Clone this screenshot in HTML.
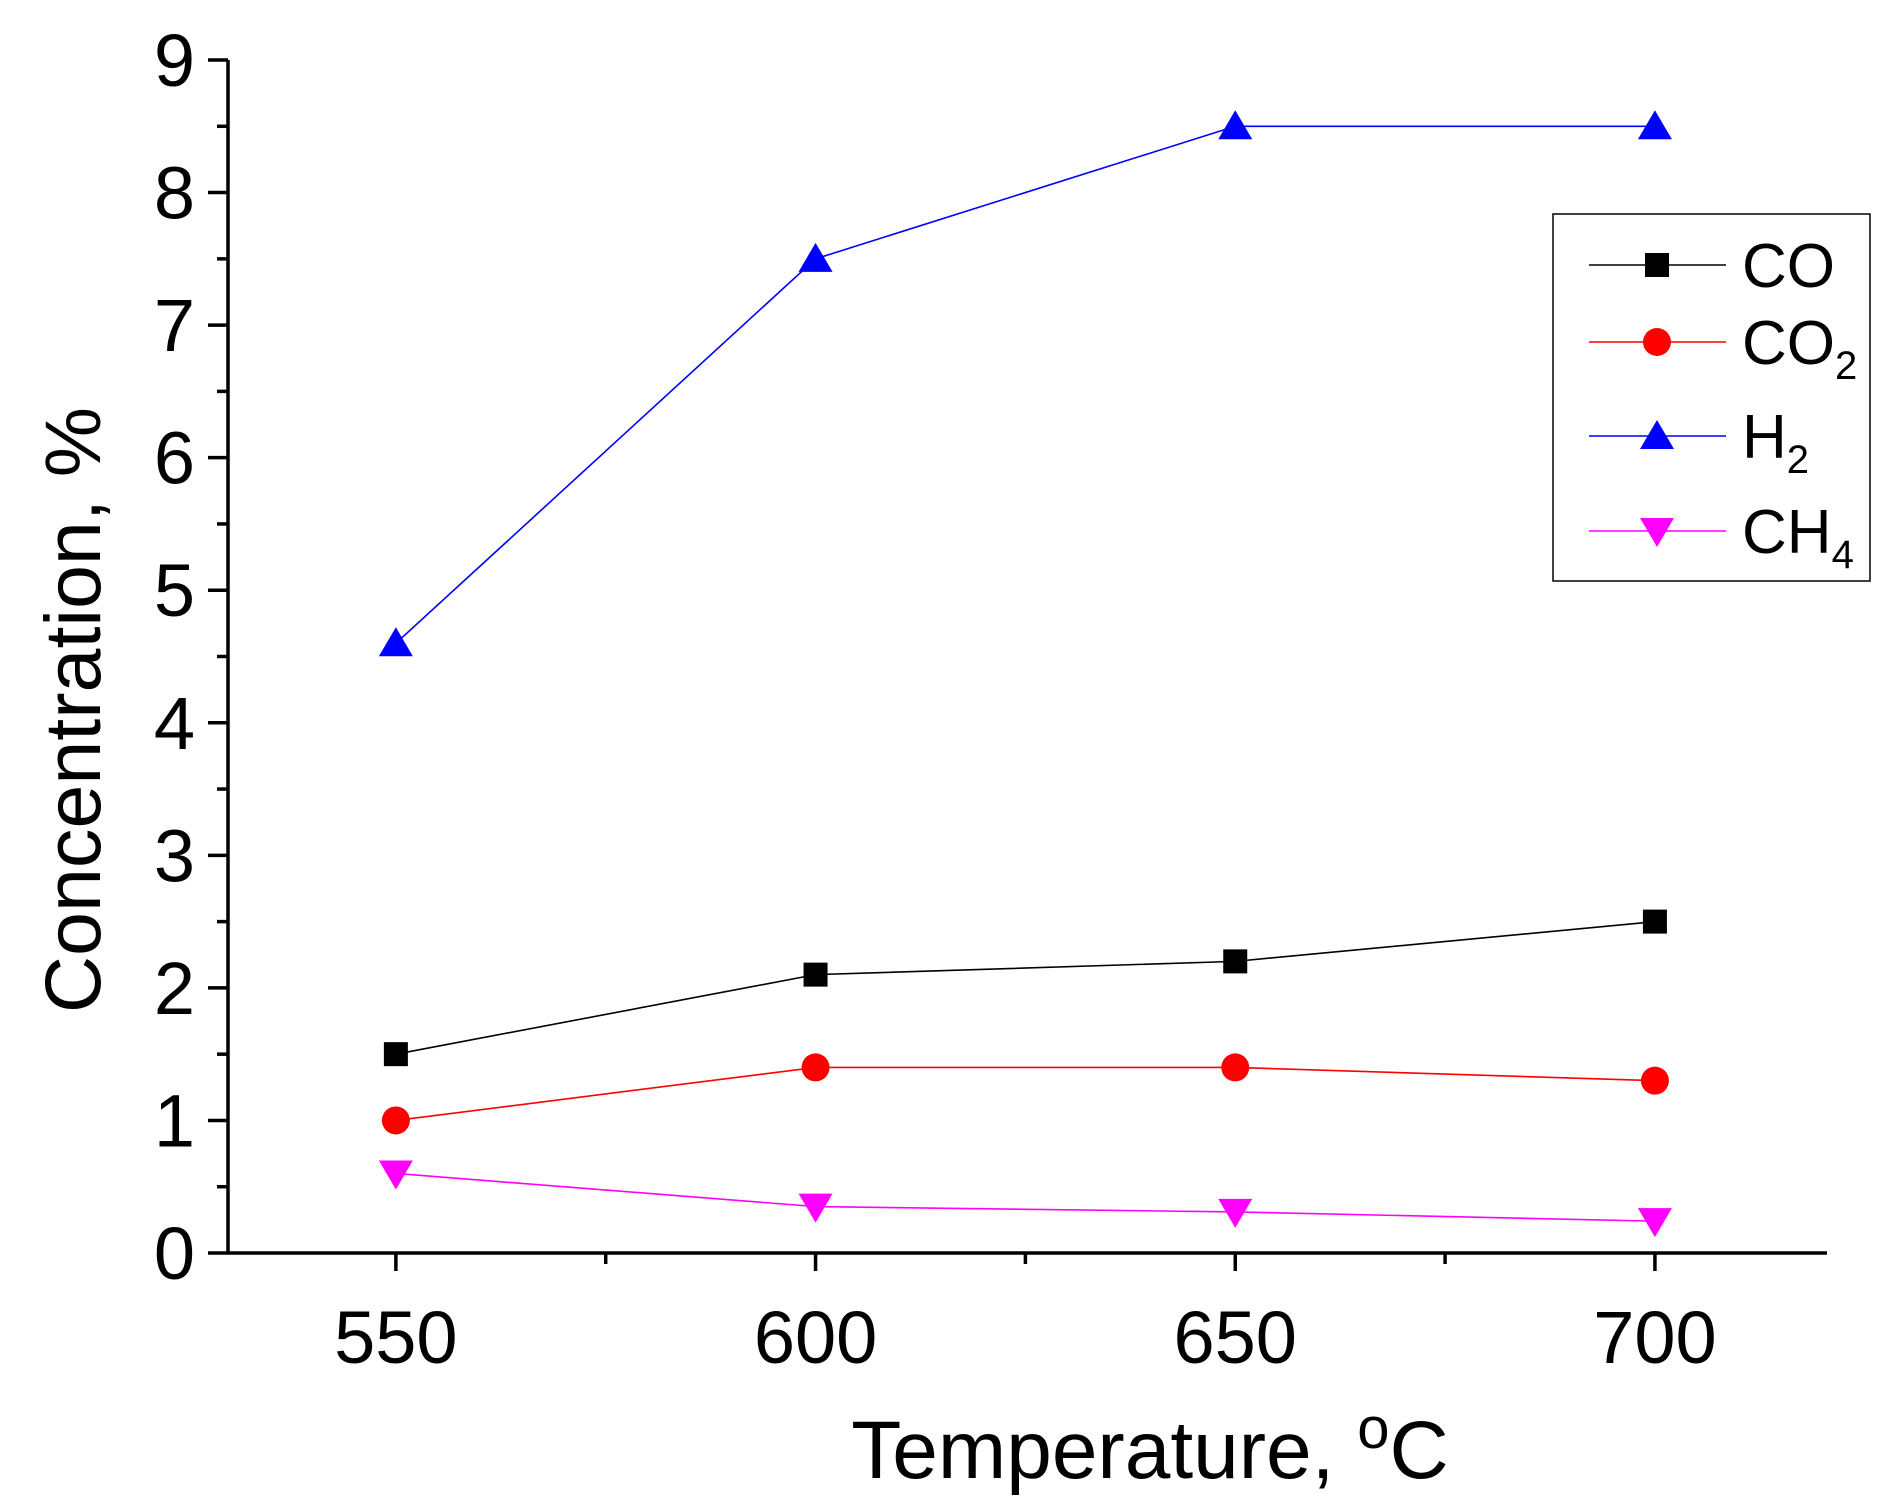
<!DOCTYPE html>
<html><head><meta charset="utf-8"><style>
html,body{margin:0;padding:0;background:#fff}
svg{display:block}
text{font-family:"Liberation Sans",Arial,sans-serif;fill:#000}
</style></head><body>
<svg id="chart" width="1903" height="1506" viewBox="0 0 1903 1506" xmlns="http://www.w3.org/2000/svg"></svg>
<script>
const categories=[550,600,650,700];
const coValues=[1.5,2.1,2.2,2.5];
const co2Values=[1.0,1.4,1.4,1.3];
const h2Values=[4.6,7.5,8.5,8.5];
const ch4Values=[0.6,0.35,0.31,0.24];
const yTicks=[0,1,2,3,4,5,6,7,8,9];
const xTicks=[550,600,650,700];

const NS="http://www.w3.org/2000/svg";
const svg=document.getElementById('chart');
const L=228,R=1827,T=60,B=1253;
const X0=530,X1=720.5,Y0=0,Y1=9;
function xs(v){return L+(v-X0)/(X1-X0)*(R-L);}
function ys(v){return B-(v-Y0)/(Y1-Y0)*(B-T);}
function el(tag,attrs,parent){const e=document.createElementNS(NS,tag);for(const k in attrs)e.setAttribute(k,attrs[k]);(parent||svg).appendChild(e);return e;}

const axes=el('g',{});


const yAxis=el('line',{x1:L,y1:T,x2:L,y2:B,stroke:'#000','stroke-width':3.5},axes);


const xAxis=el('line',{x1:L,y1:B,x2:R,y2:B,stroke:'#000','stroke-width':3.5},axes);


yTicks.forEach(v=>{
  const y=ys(v);
  el('line',{x1:L-20,y1:y,x2:L,y2:y,stroke:'#000','stroke-width':3.5},axes);
  if(v<9) el('line',{x1:L-11,y1:ys(v+0.5),x2:L,y2:ys(v+0.5),stroke:'#000','stroke-width':3.5},axes);
  const t=el('text',{x:L-33,y:y+26,'font-size':74,'text-anchor':'end'},axes);
  t.textContent=v;
  
  
});
xTicks.forEach((v,i)=>{
  const x=xs(v);
  el('line',{x1:x,y1:B,x2:x,y2:B+18,stroke:'#000','stroke-width':3.5},axes);
  if(i<xTicks.length-1) el('line',{x1:xs(v+25),y1:B,x2:xs(v+25),y2:B+11,stroke:'#000','stroke-width':3.5},axes);
  const t=el('text',{x:x,y:1363,'font-size':74,'text-anchor':'middle'},axes);
  t.textContent=v;
  
  
});
const xt=el('text',{x:1150,y:1478,'font-size':82,'text-anchor':'middle'});
xt.innerHTML='Temperature, <tspan dy="-30" font-size="58">o</tspan><tspan dy="30">C</tspan>';


const yt=el('text',{x:0,y:0,'font-size':79,'text-anchor':'middle',transform:'translate(100,710) rotate(-90)'});
yt.textContent='Concentration, %';



function marker(type,x,y,color,parent){
  if(type==='square') return el('rect',{x:x-12,y:y-12,width:24,height:24,fill:color},parent);
  if(type==='circle') return el('circle',{cx:x,cy:y,r:14,fill:color},parent);
  if(type==='up') return el('polygon',{points:`${x},${y-16} ${x-17},${y+13} ${x+17},${y+13}`,fill:color},parent);
  return el('polygon',{points:`${x},${y+16} ${x-17},${y-13} ${x+17},${y-13}`,fill:color},parent);
}
const series=[
  {name:'co',vals:coValues,color:'#000',m:'square'},
  {name:'co2',vals:co2Values,color:'#ff0000',m:'circle'},
  {name:'h2',vals:h2Values,color:'#0000ff',m:'up'},
  {name:'ch4',vals:ch4Values,color:'#ff00ff',m:'down'}
];
series.forEach(s=>{
  const g=el('g',{});
  
  
  const pts=categories.map((c,i)=>xs(c)+','+ys(s.vals[i])).join(' ');
  const pl=el('polyline',{points:pts,fill:'none',stroke:s.color,'stroke-width':1.6},g);
  
  
  categories.forEach((c,i)=>{
    const mk=marker(s.m,xs(c),ys(s.vals[i]),s.color,g);
    
    
  });
});

const lg=el('g',{});


el('rect',{x:1553,y:214,width:317,height:367,fill:'#fff',stroke:'#000','stroke-width':1.5},lg);
const labels=['CO','CO<tspan dy="15" font-size="40">2</tspan>','H<tspan dy="15" font-size="40">2</tspan>','CH<tspan dy="15" font-size="40">4</tspan>'];
const ly=[265,342,436,531];
series.forEach((s,i)=>{
  const y=ly[i];
  const e=el('g',{},lg);
  
  
  el('line',{x1:1589,y1:y,x2:1726,y2:y,stroke:s.color,'stroke-width':1.6},e);
  marker(s.m,1657,y,s.color,e);
  const t=el('text',{x:1742,y:y+22,'font-size':62},e);
  t.innerHTML=labels[i];
});
</script>
</body></html>
